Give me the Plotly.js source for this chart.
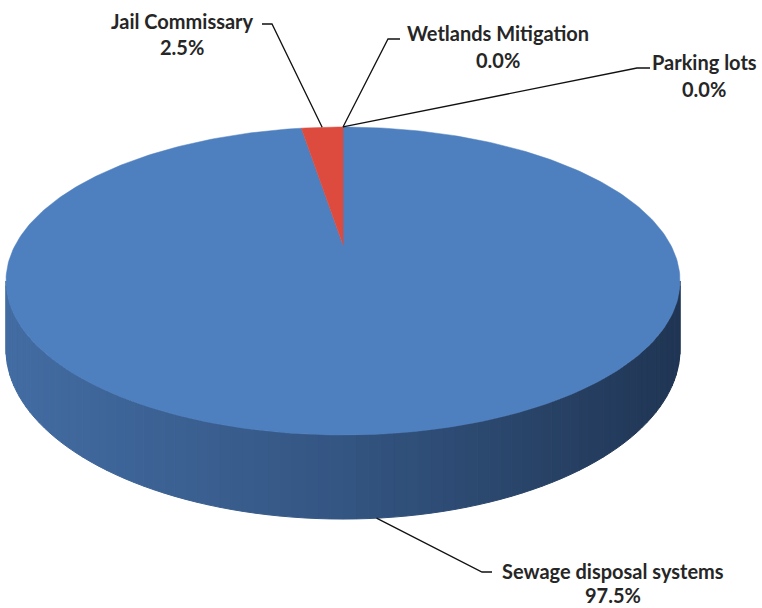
<!DOCTYPE html>
<html>
<head>
<meta charset="utf-8">
<script src="https://cdn.plot.ly/plotly-3.0.1.min.js"></script>
<style>html,body{margin:0;padding:0;background:#fff;}#chart{width:762px;height:608px;}</style>
</head>
<body>
<div id="chart"></div>
<script>
// ---- data (clockwise from 12 o'clock) ----
const categories = ["Sewage disposal systems", "Jail Commissary", "Wetlands Mitigation", "Parking lots"];
const values = [97.5, 2.5, 0.0, 0.0];
const sliceColors = ["#4e7fbf", "#dd4a3e", "#9bbb59", "#8064a2"];

// ---- 3D pie geometry (layout) ----
const W = 762, H = 608;
const CX = 343, CY = 245, A = 327.7, B = 145.6, K = 0.2337, D = 64.4;
function proj(theta, down) {
  const t = theta * Math.PI / 180;
  const u = Math.sin(t), v = Math.cos(t);
  const w = 1 + K * v;
  return [CX + A * u / w, CY - B * v / w + (down ? D / w : 0)];
}
const total = values.reduce((a, b) => a + b, 0);
const starts = [], ends = [];
let acc = 0;
values.forEach(v => { starts.push(acc / total * 360); acc += v; ends.push(acc / total * 360); });
function sliceAt(theta) {
  for (let i = 0; i < values.length; i++) if (values[i] > 0 && theta >= starts[i] && theta < ends[i]) return i;
  return 0;
}
function toArr(h) { return [parseInt(h.slice(1,3),16), parseInt(h.slice(3,5),16), parseInt(h.slice(5,7),16)]; }
function mixA(a, b, f) { return a.map((x, i) => x + (b[i] - x) * f); }
function css(a) { return 'rgb(' + a.map(x => Math.round(x)).join(',') + ')'; }

const traces = [];
// side wall strips (front half, between the silhouette tangents)
const thR = Math.acos(-K) * 180 / Math.PI, thL = 360 - thR;
const N = 90;
const NAVY = [12, 22, 38];
for (let s = 0; s < N; s++) {
  const a0 = thR + (thL - thR) * s / N, a1 = thR + (thL - thR) * (s + 1) / N;
  const p0 = proj(a0, false), p1 = proj(a1, false), q1 = proj(a1, true), q0 = proj(a0, true);
  const idx = sliceAt((a0 + a1) / 2);
  const fx = Math.min(1, Math.max(0, ((p0[0] + p1[0]) / 2 - 10) / 670));
  const base = toArr(sliceColors[idx]);
  const light = mixA(base, [0, 0, 0], 0.15);
  const dark = mixA(base, NAVY, 0.40);
  const darkest = mixA(base, NAVY, 0.70);
  const col = css(fx < 0.5 ? mixA(light, dark, fx * 2) : mixA(dark, darkest, (fx - 0.5) * 2));
  traces.push({type: 'scatter', mode: 'lines', x: [p0[0], p1[0], q1[0], q0[0], p0[0]], y: [p0[1], p1[1], q1[1], q0[1], p0[1]],
    fill: 'toself', fillcolor: col, line: {color: col, width: 1}, hoverinfo: 'skip', showlegend: false});
}
// top face slices
values.forEach((v, i) => {
  if (v <= 0) return;
  const xs = [CX], ys = [CY];
  const n = Math.max(2, Math.ceil(ends[i] - starts[i]));
  for (let j = 0; j <= n; j++) { const p = proj(starts[i] + (ends[i] - starts[i]) * j / n, false); xs.push(p[0]); ys.push(p[1]); }
  xs.push(CX); ys.push(CY);
  traces.push({type: 'scatter', mode: 'lines', x: xs, y: ys, fill: 'toself', fillcolor: sliceColors[i],
    line: {color: sliceColors[i], width: 0.5}, hoverinfo: 'skip', showlegend: false, name: categories[i]});
});

// labels (layout positions)
const labelPos = {
  "Jail Commissary":        {x: 182, y1: 21, y2: 47, elbow: [272, 24], end: [262, 24], top: true},
  "Wetlands Mitigation":    {x: 498, y1: 33, y2: 60, elbow: [388, 39], end: [400, 39], top: true},
  "Parking lots":           {x: 704, y1: 62, y2: 89, elbow: [637, 68], end: [650, 68], top: true},
  "Sewage disposal systems":{x: 613, y1: 571, y2: 595, elbow: [482, 572], end: [492, 572], top: false}
};
const annotations = [];
const font = {family: 'Lato, "Noto Sans", sans-serif', size: 20, color: '#262626', weight: 'bold'};
categories.forEach((c, i) => {
  const L = labelPos[c];
  const mid = (starts[i] + ends[i]) / 2;
  const p = proj(mid, !L.top);
  traces.push({type: 'scatter', mode: 'lines', x: [p[0], L.elbow[0], L.end[0]], y: [p[1], L.elbow[1], L.end[1]],
    line: {color: '#111', width: 1.3}, hoverinfo: 'skip', showlegend: false});
  const pct = (values[i] / total * 100).toFixed(1) + '%';
  annotations.push({x: L.x, y: L.y1, xref: 'x', yref: 'y', text: '<b>' + c + '</b>', showarrow: false, xanchor: 'center', yanchor: 'middle', font: font});
  annotations.push({x: L.x, y: L.y2, xref: 'x', yref: 'y', text: '<b>' + pct + '</b>', showarrow: false, xanchor: 'center', yanchor: 'middle', font: font});
});

const layout = {
  width: W, height: H, margin: {l: 0, r: 0, t: 0, b: 0},
  paper_bgcolor: '#fff', plot_bgcolor: '#fff',
  xaxis: {range: [0, W], visible: false, fixedrange: true},
  yaxis: {range: [H, 0], visible: false, fixedrange: true},
  showlegend: false, annotations: annotations
};
Plotly.newPlot('chart', traces, layout, {staticPlot: true, displayModeBar: false});
</script>
</body>
</html>
